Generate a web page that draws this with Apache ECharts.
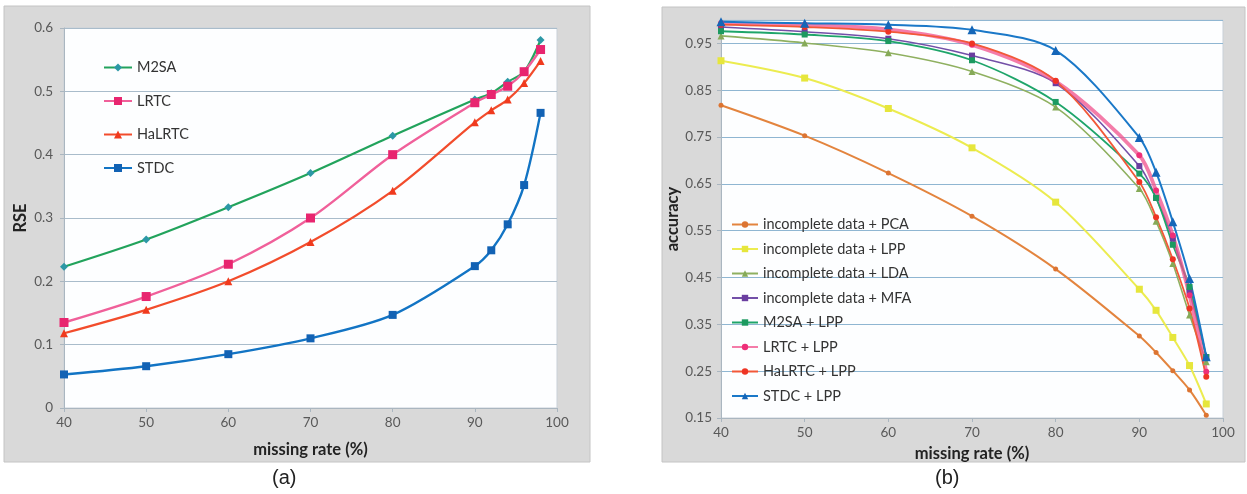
<!DOCTYPE html>
<html><head><meta charset="utf-8">
<script src="https://cdn.jsdelivr.net/npm/echarts@6/dist/echarts.min.js"></script>
<style>html,body{margin:0;padding:0;background:#fff}#c{width:1247px;height:494px}</style>
</head><body><div id="c"></div>
<script>
// ---- data ----
const xA = [40, 50, 60, 70, 80, 90, 92, 94, 96, 98];
const rseM2SA   = [0.223, 0.266, 0.317, 0.371, 0.430, 0.487, 0.497, 0.515, 0.531, 0.581];
const rseLRTC   = [0.135, 0.176, 0.227, 0.300, 0.400, 0.482, 0.495, 0.508, 0.531, 0.566];
const rseHaLRTC = [0.118, 0.155, 0.200, 0.262, 0.343, 0.451, 0.470, 0.487, 0.513, 0.548];
const rseSTDC   = [0.053, 0.066, 0.085, 0.110, 0.147, 0.224, 0.249, 0.290, 0.352, 0.466];

const xB = [40, 50, 60, 70, 80, 90, 92, 94, 96, 98];
const accPCA    = [0.818, 0.753, 0.673, 0.581, 0.468, 0.325, 0.290, 0.251, 0.210, 0.156];
const accLPP    = [0.913, 0.876, 0.811, 0.727, 0.611, 0.425, 0.380, 0.322, 0.262, 0.180];
const accLDA    = [0.966, 0.951, 0.930, 0.890, 0.814, 0.640, 0.570, 0.480, 0.370, 0.270];
const accMFA    = [0.985, 0.975, 0.960, 0.924, 0.865, 0.688, 0.620, 0.533, 0.420, 0.280];
const accM2SA   = [0.976, 0.969, 0.955, 0.914, 0.825, 0.672, 0.620, 0.520, 0.430, 0.280];
const accLRTC   = [0.993, 0.990, 0.980, 0.947, 0.869, 0.711, 0.636, 0.540, 0.412, 0.249];
const accHaLRTC = [0.990, 0.985, 0.975, 0.950, 0.870, 0.654, 0.579, 0.489, 0.384, 0.238];
const accSTDC   = [0.996, 0.993, 0.990, 0.979, 0.935, 0.749, 0.675, 0.569, 0.448, 0.281];

const namesA = ['M2SA', 'LRTC', 'HaLRTC', 'STDC'];
const namesB = ['incomplete data + PCA', 'incomplete data + LPP', 'incomplete data + LDA',
  'incomplete data + MFA', 'M2SA + LPP', 'LRTC + LPP', 'HaLRTC + LPP', 'STDC + LPP'];
const xTicksA = [40, 50, 60, 70, 80, 90, 100];
const yTicksA = [0, 0.1, 0.2, 0.3, 0.4, 0.5, 0.6];
const yTicksB = [0.15, 0.25, 0.35, 0.45, 0.55, 0.65, 0.75, 0.85, 0.95];

// ---- build ----
const zip = (xs, ys) => xs.map((x, i) => [x, ys[i]]);
const FONT = 'Lato, "Open Sans", sans-serif';

function mk(name, xs, ys, gi, lineColor, markColor, symbol, size, width, opacity) {
  return {
    name, type: 'line', xAxisIndex: gi, yAxisIndex: gi,
    data: zip(xs, ys), smooth: 0.3, symbol, symbolSize: size,
    lineStyle: { color: lineColor, width: width, opacity: opacity == null ? 1 : opacity },
    itemStyle: { color: markColor },
    emphasis: { disabled: true }, z: 3
  };
}

const series = [
  mk(namesA[0], xA, rseM2SA, 0, '#22a35c', '#2c98a6', 'diamond', 8, 2.2),
  mk(namesA[1], xA, rseLRTC, 0, '#f0609a', '#e8256f', 'rect', 9, 2.4),
  mk(namesA[2], xA, rseHaLRTC, 0, '#f24c2c', '#f03a1e', 'triangle', 8, 2.2),
  mk(namesA[3], xA, rseSTDC, 0, '#1274c4', '#1262b4', 'rect', 8, 2.4),
  mk(namesB[0], xB, accPCA, 1, '#e3843e', '#dc7432', 'circle', 5, 2),
  mk(namesB[1], xB, accLPP, 1, '#ecec50', '#e6e63c', 'rect', 7, 2),
  mk(namesB[2], xB, accLDA, 1, '#8fb060', '#86aa58', 'triangle', 7, 1.6),
  mk(namesB[3], xB, accMFA, 1, '#7350a8', '#6a3ea0', 'rect', 6, 1.6),
  mk(namesB[4], xB, accM2SA, 1, '#1ea56a', '#1c9a60', 'rect', 6, 1.8),
  mk(namesB[5], xB, accLRTC, 1, '#f0508c', '#ee2f78', 'circle', 6, 3.8, 0.75),
  mk(namesB[6], xB, accHaLRTC, 1, '#f25838', '#ee3424', 'circle', 6, 1.8),
  mk(namesB[7], xB, accSTDC, 1, '#1a78c8', '#1566b8', 'triangle', 9, 2)
];

const axisLbl = { color: '#595959', fontFamily: FONT, fontSize: 13.5 };
const nameStyle = { color: '#222', fontFamily: FONT, fontSize: 16.5, fontWeight: 'bold' };

const option = {
  animation: false,
  backgroundColor: '#fff',
  graphic: [
    { type: 'rect', shape: { x: 4, y: 6, width: 586, height: 456 }, style: { fill: '#d9d9d9', stroke: '#c4c4c4', lineWidth: 1 }, z: -10 },
    { type: 'rect', shape: { x: 662, y: 7, width: 583, height: 455 }, style: { fill: '#d9d9d9', stroke: '#c4c4c4', lineWidth: 1 }, z: -10 },
    { type: 'text', left: 272, top: 468, style: { text: '(a)', fill: '#222', font: '20px "Liberation Sans", Arial, sans-serif' } },
    { type: 'text', left: 935, top: 468, style: { text: '(b)', fill: '#222', font: '20px "Liberation Sans", Arial, sans-serif' } }
  ],
  legend: [
    {
      data: namesA, orient: 'vertical', left: 98, top: 55, itemGap: 18.5,
      itemWidth: 28, itemHeight: 10,
      textStyle: { color: '#333', fontFamily: FONT, fontSize: 14.5 }
    },
    {
      data: namesB, orient: 'vertical', left: 726, top: 212, itemGap: 9.5,
      itemWidth: 26, itemHeight: 8,
      textStyle: { color: '#333', fontFamily: FONT, fontSize: 14.5 }
    }
  ],
  grid: [
    { left: 64, top: 28, width: 493, height: 380, show: true, backgroundColor: '#fdfeff', borderColor: '#c9d1d8', borderWidth: 1 },
    { left: 721, top: 20, width: 502, height: 398, show: true, backgroundColor: '#fdfeff', borderColor: '#c9d1d8', borderWidth: 1 }
  ],
  xAxis: [
    {
      gridIndex: 0, type: 'value', min: xTicksA[0], max: xTicksA[xTicksA.length - 1], interval: 10,
      name: 'missing rate (%)', nameLocation: 'middle', nameGap: 33, nameTextStyle: nameStyle,
      axisLine: { lineStyle: { color: '#aab6c0' } },
      axisTick: { show: true, length: 4, lineStyle: { color: '#aab6c0' } },
      axisLabel: Object.assign({ margin: 8 }, axisLbl),
      splitLine: { show: false }
    },
    {
      gridIndex: 1, type: 'value', min: 40, max: 100, interval: 10,
      name: 'missing rate (%)', nameLocation: 'middle', nameGap: 23, nameTextStyle: nameStyle,
      axisLine: { lineStyle: { color: '#aab6c0' } },
      axisTick: { show: true, length: 4, lineStyle: { color: '#aab6c0' } },
      axisLabel: Object.assign({ margin: 8 }, axisLbl),
      splitLine: { show: false }
    }
  ],
  yAxis: [
    {
      gridIndex: 0, type: 'value', min: yTicksA[0], max: yTicksA[yTicksA.length - 1], interval: 0.1,
      name: 'RSE', nameLocation: 'middle', nameGap: 35, nameRotate: 90, nameTextStyle: nameStyle,
      axisLine: { show: true, lineStyle: { color: '#aab6c0' } },
      axisTick: { show: true, length: 4, lineStyle: { color: '#aab6c0' } },
      axisLabel: Object.assign({ margin: 11, formatter: v => String(Math.round(v * 10) / 10) }, axisLbl),
      splitLine: { show: true, lineStyle: { color: '#a9bccb', width: 1.2 } }
    },
    {
      gridIndex: 1, type: 'value', min: yTicksB[0], max: 1.0, interval: 0.1,
      name: 'accuracy', nameLocation: 'middle', nameGap: 37, nameRotate: 90, nameTextStyle: nameStyle,
      axisLine: { show: true, lineStyle: { color: '#aab6c0' } },
      axisTick: { show: true, length: 4, lineStyle: { color: '#aab6c0' } },
      axisLabel: Object.assign({ margin: 9, showMaxLabel: false,
        formatter: v => (v > 0.99 ? '' : (Math.round(v * 100) / 100).toFixed(2)) }, axisLbl),
      splitLine: { show: true, lineStyle: { color: '#8fb6d2', width: 1.2 } }
    }
  ],
  series
};

const chart = echarts.init(document.getElementById('c'), null, { renderer: 'canvas' });
chart.setOption(option);
</script>
</body></html>
